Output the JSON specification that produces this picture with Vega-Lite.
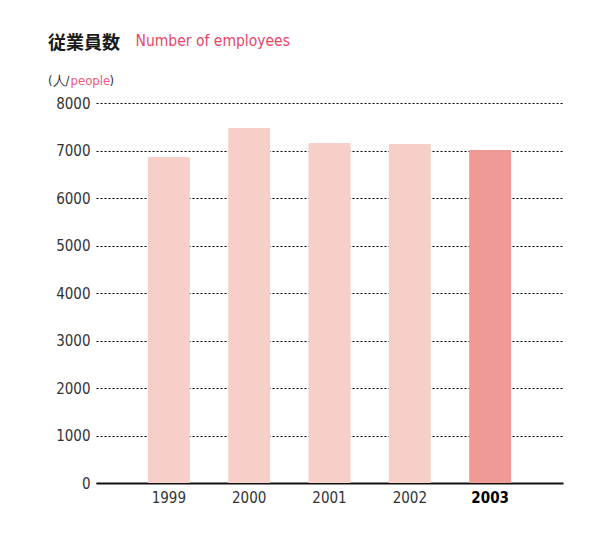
{
  "$schema": "https://vega.github.io/schema/vega-lite/v6.json",
  "autosize": "none",
  "width": 467,
  "height": 380,
  "padding": {"left": 96, "top": 103, "right": 37, "bottom": 51},
  "background": "white",
  "title": {
    "text": "従業員数",
    "subtitle": "(人/",
    "anchor": "start",
    "frame": "group",
    "dx": -48,
    "dy": 65,
    "font": "Noto Sans CJK JP",
    "fontSize": 18,
    "fontWeight": "bold",
    "color": "#1a1a1a",
    "subtitleFont": "DejaVu Sans Condensed, sans-serif",
    "subtitleFontSize": 13,
    "subtitleColor": "#333333",
    "subtitlePadding": 22,
    "offset": 10
  },
  "data": {
    "values": [
      {"year": "1999", "employees": 6863},
      {"year": "2000", "employees": 7474},
      {"year": "2001", "employees": 7158},
      {"year": "2002", "employees": 7137},
      {"year": "2003", "employees": 7010}
    ]
  },
  "encoding": {
    "x": {
      "field": "year",
      "type": "nominal",
      "sort": null,
      "scale": {"paddingInner": 0.478, "paddingOuter": 0.646},
      "axis": {
        "labelAngle": 0,
        "ticks": false,
        "domainColor": "#111111",
        "domainWidth": 2,
        "labelPadding": 7,
        "labelFont": "DejaVu Sans Condensed, sans-serif",
        "labelFontSize": 15,
        "labelColor": {"condition": {"test": "datum.value == '2003'", "value": "#000000"}, "value": "#333333"},
        "labelFontWeight": {"condition": {"test": "datum.value == '2003'", "value": "bold"}, "value": "normal"},
        "title": "people",
        "titleAlign": "left",
        "titleBaseline": "alphabetic",
        "titleAnchor": null,
        "titleX": -26,
        "titleY": -399,
        "titleFont": "DejaVu Sans Condensed, sans-serif",
        "titleFontSize": 13,
        "titleFontWeight": "normal",
        "titleColor": "#ee5a7a"
      }
    },
    "color": {
      "condition": {"test": "datum.year == '2003'", "value": "#f09a96"},
      "value": "#f6cfc8"
    }
  },
  "layer": [
    {
      "mark": {"type": "bar"},
      "encoding": {
        "y": {
          "field": "employees",
          "type": "quantitative",
          "scale": {"domain": [0, 8000], "nice": false},
          "axis": {
            "values": [0, 1000, 2000, 3000, 4000, 5000, 6000, 7000, 8000],
            "format": "d",
            "domain": false,
            "ticks": false,
            "labelPadding": 6,
            "labelFont": "DejaVu Sans Condensed, sans-serif",
            "labelFontSize": 15,
            "labelColor": "#333333",
            "grid": true,
            "gridColor": "#000000",
            "gridDash": [2, 2],
            "gridWidth": 1,
            "title": "Number of employees",
            "titleAngle": 0,
            "titleAlign": "left",
            "titleBaseline": "alphabetic",
            "titleX": 39,
            "titleY": -58,
            "titleFont": "DejaVu Sans Condensed, sans-serif",
            "titleFontSize": 15.5,
            "titleFontWeight": "normal",
            "titleColor": "#e8456a"
          }
        }
      }
    },
    {
      "mark": {"type": "bar", "opacity": 0},
      "encoding": {
        "y": {
          "field": "employees",
          "type": "quantitative",
          "scale": {"domain": [0, 8000], "nice": false},
          "axis": {
            "orient": "right",
            "labels": false,
            "domain": false,
            "ticks": false,
            "grid": false,
            "title": ")",
            "titleAngle": 0,
            "titleAlign": "left",
            "titleBaseline": "alphabetic",
            "titleX": -454,
            "titleY": -19,
            "titleFont": "DejaVu Sans Condensed, sans-serif",
            "titleFontSize": 13,
            "titleFontWeight": "normal",
            "titleColor": "#333333"
          }
        }
      }
    }
  ],
  "resolve": {"axis": {"y": "independent"}},
  "config": {"view": {"stroke": null}}
}
